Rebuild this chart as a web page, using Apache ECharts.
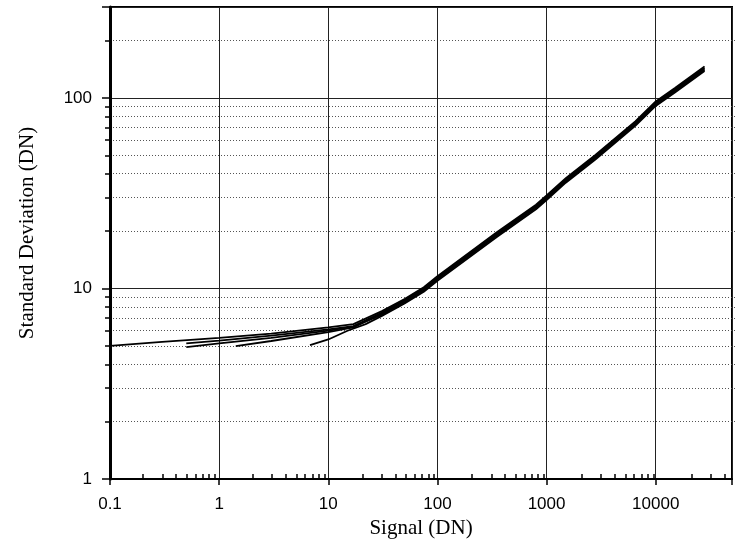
<!DOCTYPE html>
<html><head><meta charset="utf-8">
<script src="https://cdn.jsdelivr.net/npm/echarts@6/dist/echarts.min.js"></script>
<style>html,body{margin:0;padding:0;background:#fff}#c{width:735px;height:552px}</style>
</head><body><div id="c"></div>
<script>
// Axis ticks
const xMajor = [0.1, 1, 10, 100, 1000, 10000];
const yMajor = [1, 10, 100];
const xMinor = [0.2,0.3,0.4,0.5,0.6,0.7,0.8,0.9, 2,3,4,5,6,7,8,9, 20,30,40,50,60,70,80,90,
  200,300,400,500,600,700,800,900, 2000,3000,4000,5000,6000,7000,8000,9000, 20000,30000,40000];
const yMinor = [2,3,4,5,6,7,8,9, 20,30,40,50,60,70,80,90, 200];

// Curves: signal (DN) and standard deviation (DN)
const sigA = [0.1, 0.3, 1, 3, 10, 17, 31, 50, 75, 100, 350, 800, 1000, 1500, 2800, 6500, 10000, 15000, 28000];
const sdA  = [5.0, 5.25, 5.5, 5.8, 6.25, 6.5, 7.6, 8.8, 10.15, 11.6, 19.7, 27.5, 30.75, 37.9, 50.2, 75.3, 95.9, 112.8, 146.4];
const sigB1 = [0.5, 1, 3, 10, 17, 31, 50, 75, 100, 350, 800, 1000, 1500, 2800, 6500, 10000, 15000, 28000];
const sdB1  = [5.15, 5.33, 5.65, 6.1, 6.35, 7.47, 8.69, 10.0, 11.4, 19.4, 27.1, 30.3, 37.4, 49.5, 74.2, 94.5, 111.1, 144.2];
const sigB2 = [0.5, 1, 3, 10, 17, 31, 50, 75, 100, 350, 800, 1000, 1500, 2800, 6500, 10000, 15000, 28000];
const sdB2  = [4.92, 5.15, 5.5, 6.0, 6.3, 7.29, 8.47, 9.75, 11.13, 18.9, 26.4, 29.55, 36.4, 48.3, 72.4, 92.2, 108.4, 140.7];
const sigD = [1.42, 3, 10, 17, 31, 50, 75, 100, 350, 800, 1000, 1500, 2800, 6500, 10000, 15000, 28000];
const sdD  = [4.98, 5.3, 5.9, 6.25, 7.4, 8.6, 9.9, 11.3, 19.2, 26.8, 30.0, 37.0, 49.0, 73.5, 93.6, 110.0, 142.8];
const sigE = [6.8, 10, 15, 22, 31, 50, 75, 100, 350, 800, 1000, 1500, 2800, 6500, 10000, 15000, 28000];
const sdE  = [5.04, 5.4, 6.0, 6.5, 7.18, 8.34, 9.6, 10.96, 18.6, 26.0, 29.1, 35.9, 47.5, 71.3, 90.8, 106.7, 138.5];

const curves = [[sigA, sdA], [sigB1, sdB1], [sigB2, sdB2], [sigD, sdD], [sigE, sdE]];

function fmt(v) {
  const l = Math.log10(v);
  if (Math.abs(l - Math.round(l)) > 1e-6) return '';
  return v < 1 ? v.toFixed(1) : String(Math.round(v));
}

const gridRect = { left: 110, right: -3, top: 7, bottom: 73 };
const chart = echarts.init(document.getElementById('c'), null, { renderer: 'canvas' });
chart.setOption({
  animation: false,
  backgroundColor: '#fff',
  grid: [
    Object.assign({ show: true, borderColor: '#000', borderWidth: 2, backgroundColor: 'transparent' }, gridRect),
    Object.assign({}, gridRect)
  ],
  xAxis: [
    {
      type: 'log', logBase: 10, min: 0.1, max: 50000, gridIndex: 0, position: 'bottom',
      name: 'Signal (DN)', nameLocation: 'middle', nameGap: 38,
      nameTextStyle: { fontFamily: 'Liberation Serif', fontSize: 21, color: '#000' },
      axisLine: { show: true, lineStyle: { color: '#000', width: 2 } },
      axisTick: { show: true, inside: false, length: 6, lineStyle: { color: '#000', width: 1.5 } },
      axisLabel: { show: true, formatter: fmt, margin: 17, fontFamily: 'Liberation Sans', fontSize: 17, color: '#000' },
      splitLine: { show: true, lineStyle: { color: '#222', width: 1, type: 'solid' } }
    },
    {
      type: 'log', logBase: 10, min: 0.1, max: 50000, gridIndex: 1, position: 'bottom',
      axisLine: { show: false },
      axisTick: { show: true, inside: true, length: 5, customValues: xMinor, lineStyle: { color: '#000', width: 1.5 } },
      axisLabel: { show: false },
      splitLine: { show: false }
    }
  ],
  yAxis: [
    {
      type: 'log', logBase: 10, min: 1, max: 300, gridIndex: 0, position: 'left',
      name: 'Standard Deviation (DN)', nameLocation: 'middle', nameGap: 72,
      nameTextStyle: { fontFamily: 'Liberation Serif', fontSize: 21, color: '#000', padding: [0, 0, 0, 20] },
      axisLine: { show: true, lineStyle: { color: '#000', width: 3 } },
      axisTick: { show: true, inside: false, length: 8, lineStyle: { color: '#000', width: 1.5 } },
      axisLabel: { show: true, formatter: fmt, margin: 18, fontFamily: 'Liberation Sans', fontSize: 17, color: '#000' },
      splitLine: { show: true, lineStyle: { color: '#222', width: 1.2, type: 'solid' } }
    },
    {
      type: 'log', logBase: 10, min: 1, max: 300, gridIndex: 1, position: 'left',
      axisLine: { show: false },
      axisTick: { show: true, inside: false, length: 5, customValues: yMinor, lineStyle: { color: '#000', width: 1.5 } },
      axisLabel: { show: false },
      splitLine: { show: true, lineStyle: { color: '#555', width: 1, type: [1, 2] } }
    }
  ],
  series: curves.map(function (c) {
    return {
      type: 'line', xAxisIndex: 0, yAxisIndex: 0, showSymbol: false, symbol: 'none',
      lineStyle: { color: '#000', width: 1.8 },
      data: c[0].map(function (x, i) { return [x, c[1][i]]; }),
      z: 5
    };
  })
});
</script></body></html>
